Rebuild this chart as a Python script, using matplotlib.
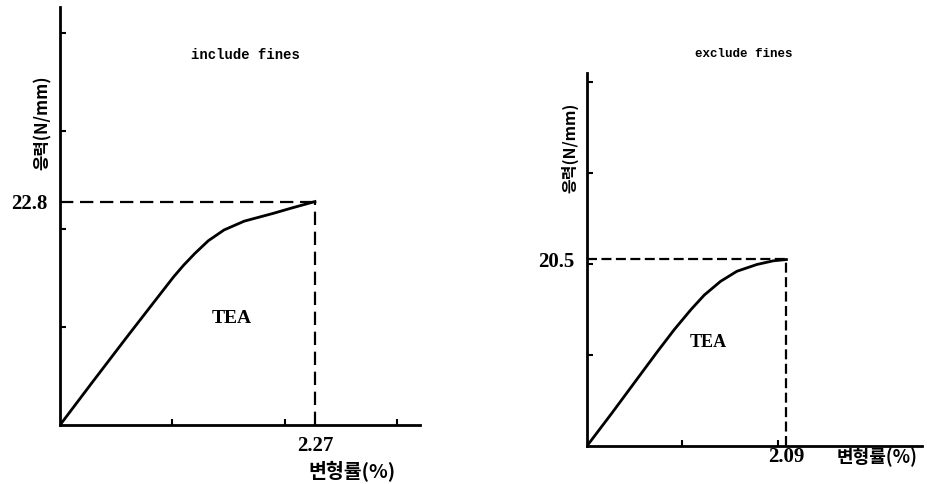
import matplotlib.pyplot as plt

plt.rcParams['font.family'] = ['Noto Sans CJK KR', 'DejaVu Sans']

# include fines
strain_inc = [0, 0.29, 0.59, 0.82, 1.01, 1.10, 1.20, 1.32, 1.46, 1.64, 1.90, 2.05, 2.27]
stress_inc = [0, 4.4, 8.9, 12.3, 15.1, 16.3, 17.5, 18.8, 19.9, 20.8, 21.6, 22.1, 22.8]
peak_inc = (2.27, 22.8)

# exclude fines
strain_exc = [0, 0.26, 0.535, 0.74, 0.915, 1.09, 1.23, 1.40, 1.57, 1.78, 1.95, 2.09]
stress_exc = [0, 3.6, 7.5, 10.4, 12.8, 15.0, 16.6, 18.1, 19.2, 19.95, 20.35, 20.5]
peak_exc = (2.09, 20.5)

titles = ["include fines", "exclude fines"]
ylab = "응력(N/mm)"
xlab = "변형률(%)"

fig = plt.figure(figsize=(9.28, 4.84), dpi=100)
ax1 = fig.add_axes([0.0647, 0.1219, 0.388, 0.8636])
ax2 = fig.add_axes([0.6325, 0.0785, 0.361, 0.7707])

serif = ['Liberation Serif', 'DejaVu Serif']
mono = ['Liberation Mono', 'DejaVu Sans Mono']

def draw(ax, xs, ys, peak, xmax, ymax, xt, dash, xpad, ypad):
    ax.plot(xs, ys, color='black', lw=2)
    px, py = peak
    ax.plot([0, px], [py, py], color='black', lw=1.6, dashes=dash)
    ax.plot([px, px], [0, py], color='black', lw=1.6, dashes=dash)
    ax.set_xlim(0, xmax)
    ax.set_ylim(0, ymax)
    for s in ['top', 'right']:
        ax.spines[s].set_visible(False)
    for s in ['left', 'bottom']:
        ax.spines[s].set_linewidth(2)
    ax.set_xticks(xt, labels=[])
    ax.set_yticks([10, 20, 30, 40], labels=[])
    ax.tick_params(which='major', direction='in', length=4, width=1.5)
    ax.set_xticks([px], labels=[f"{px:.2f}"], minor=True)
    ax.set_yticks([py], labels=[f"{py:.1f}"], minor=True)
    ax.tick_params(axis='x', which='minor', length=0, pad=xpad)
    ax.tick_params(axis='y', which='minor', length=0, pad=ypad)
    for lab in ax.get_xticklabels(minor=True) + ax.get_yticklabels(minor=True):
        lab.set_family(serif)
        lab.set_fontsize(15)
        lab.set_fontweight('bold')

draw(ax1, strain_inc, stress_inc, peak_inc, 3.206, 42.65, [1, 2, 3], (6, 3), 8, 9)
draw(ax2, strain_exc, stress_exc, peak_exc, 3.51, 41.0, [1, 2], (4.5, 2), 1, 9)

ax1.text(0.514, 0.885, titles[0], transform=ax1.transAxes, ha='center', va='center',
         family=mono, fontsize=10, fontweight='bold')
ax2.text(0.469, 1.051, titles[1], transform=ax2.transAxes, ha='center', va='center',
         family=mono, fontsize=9, fontweight='bold')

ax1.text(1.53, 10.9, "TEA", ha='center', va='center', family=serif, fontsize=14, fontweight='bold')
ax2.text(1.27, 11.4, "TEA", ha='center', va='center', family=serif, fontsize=13, fontweight='bold')

ax1.set_ylabel(ylab, fontsize=12, fontweight='bold')
ax1.yaxis.set_label_coords(-0.047, 0.722)
ax1.yaxis.label.set_va('center')
ax2.set_ylabel(ylab, fontsize=11.5, fontweight='bold')
ax2.yaxis.set_label_coords(-0.051, 0.80)
ax2.yaxis.label.set_va('center')

ax1.set_xlabel(xlab, fontsize=14, fontweight='bold')
ax1.xaxis.set_label_coords(0.811, -0.112)
ax1.xaxis.label.set_va('center')
ax2.set_xlabel(xlab, fontsize=13, fontweight='bold')
ax2.xaxis.set_label_coords(0.866, -0.03)
ax2.xaxis.label.set_va('center')

fig.savefig("out.png", dpi=100)
